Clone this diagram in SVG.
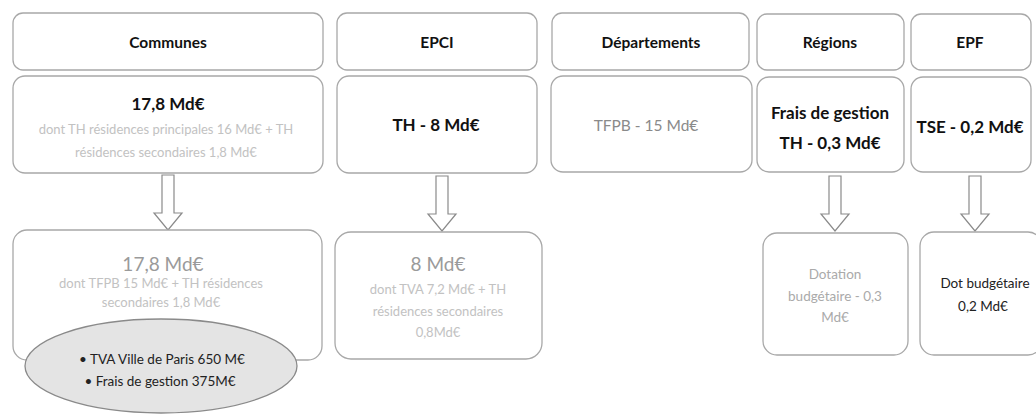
<svg xmlns="http://www.w3.org/2000/svg" width="1036" height="414" viewBox="0 0 1036 414">
<style>
.box{fill:#fff;stroke:#a8a8a8;stroke-width:1.3}
.t{font-family:Lato,"Open Sans","Liberation Sans",sans-serif;text-anchor:middle}
.h{font-size:15.5px;font-weight:bold;fill:#111}
.b{font-size:17px;font-weight:bold;fill:#111}
.g{font-size:13px;fill:#c2c2c2}
.gb{font-size:19px;fill:#9a9a9a}
.g2{font-size:13.5px;fill:#aaaaaa}
.d{font-size:13.5px;fill:#222}
.arr{fill:#fff;stroke:#8a8a8a;stroke-width:1.2}
</style>
<defs>
<path id="ar" d="M-6,0 H6 V38 H14 L0,55 L-14,38 H-6 Z"/>
</defs>
<rect width="1036" height="414" fill="#fff"/>
<g id="connectors">
<use href="#ar" class="arr" x="168" y="175"/>
<use href="#ar" class="arr" x="442" y="176"/>
<use href="#ar" class="arr" x="835" y="176"/>
<use href="#ar" class="arr" x="975" y="176"/>
</g>
<g id="communes">
<rect class="box" x="13" y="13" width="310" height="57" rx="10"/>
<text class="t h" x="168" y="48">Communes</text>
<rect class="box" x="13" y="76" width="310" height="97" rx="12"/>
<text class="t b" x="168" y="110">17,8 Md€</text>
<text class="t g" x="166" y="134">dont TH résidences principales 16 Md€ + TH</text>
<text class="t g" x="166" y="157">résidences secondaires 1,8 Md€</text>
</g>
<g id="communes-bas">
<rect class="box" x="13" y="230" width="309" height="130" rx="14"/>
<text class="t gb" x="163" y="271">17,8 Md€</text>
<text class="t g" x="161" y="288">dont TFPB 15 Md€ + TH résidences</text>
<text class="t g" x="161" y="307">secondaires 1,8 Md€</text>
</g>
<g id="ellipse">
<ellipse cx="161" cy="366" rx="136" ry="47" fill="#e4e4e4" stroke="#8a8a8a" stroke-width="1.3"/>
<text class="t d" x="162" y="364">• TVA Ville de Paris 650 M€</text>
<text class="t d" x="160" y="386">• Frais de gestion 375M€</text>
</g>
<g id="epci">
<rect class="box" x="337" y="13" width="200" height="57" rx="10"/>
<text class="t h" x="437" y="48">EPCI</text>
<rect class="box" x="337" y="76" width="200" height="97" rx="12"/>
<text class="t b" x="436" y="131">TH -  8 Md€</text>
</g>
<g id="epci-bas">
<rect class="box" x="335" y="232" width="207" height="127" rx="16"/>
<text class="t gb" x="438" y="271">8 Md€</text>
<text class="t g" x="438" y="294">dont TVA 7,2 Md€ + TH</text>
<text class="t g" x="438" y="316">résidences secondaires</text>
<text class="t g" x="438" y="337">0,8Md€</text>
</g>
<g id="departements">
<rect class="box" x="552" y="13" width="197" height="57" rx="10"/>
<text class="t h" x="651" y="48">Départements</text>
<rect class="box" x="551" y="76" width="201" height="96" rx="12"/>
<text class="t" style="font-size:15.5px;fill:#8a8a8a" x="646" y="131">TFPB - 15 Md€</text>
</g>
<g id="regions">
<rect class="box" x="757" y="14" width="147" height="56" rx="10"/>
<text class="t h" x="830" y="48">Régions</text>
<rect class="box" x="757" y="77" width="147" height="95" rx="12"/>
<text class="t b" x="830" y="119">Frais de gestion</text>
<text class="t b" x="830" y="149">TH - 0,3 Md€</text>
</g>
<g id="regions-bas">
<rect class="box" x="763" y="233" width="145" height="122" rx="14"/>
<text class="t g2" x="835" y="279">Dotation</text>
<text class="t g2" x="835" y="301">budgétaire - 0,3</text>
<text class="t g2" x="835" y="322">Md€</text>
</g>
<g id="epf">
<rect class="box" x="911" y="14" width="120" height="56" rx="10"/>
<text class="t h" x="970" y="48">EPF</text>
<rect class="box" x="911" y="77" width="120" height="95" rx="12"/>
<text class="t b" x="970" y="133">TSE - 0,2 Md€</text>
</g>
<g id="epf-bas">
<rect class="box" x="920" y="232" width="122" height="123" rx="14"/>
<text class="t d" x="985" y="288">Dot budgétaire</text>
<text class="t d" x="983" y="311">0,2 Md€</text>
</g>
</svg>
